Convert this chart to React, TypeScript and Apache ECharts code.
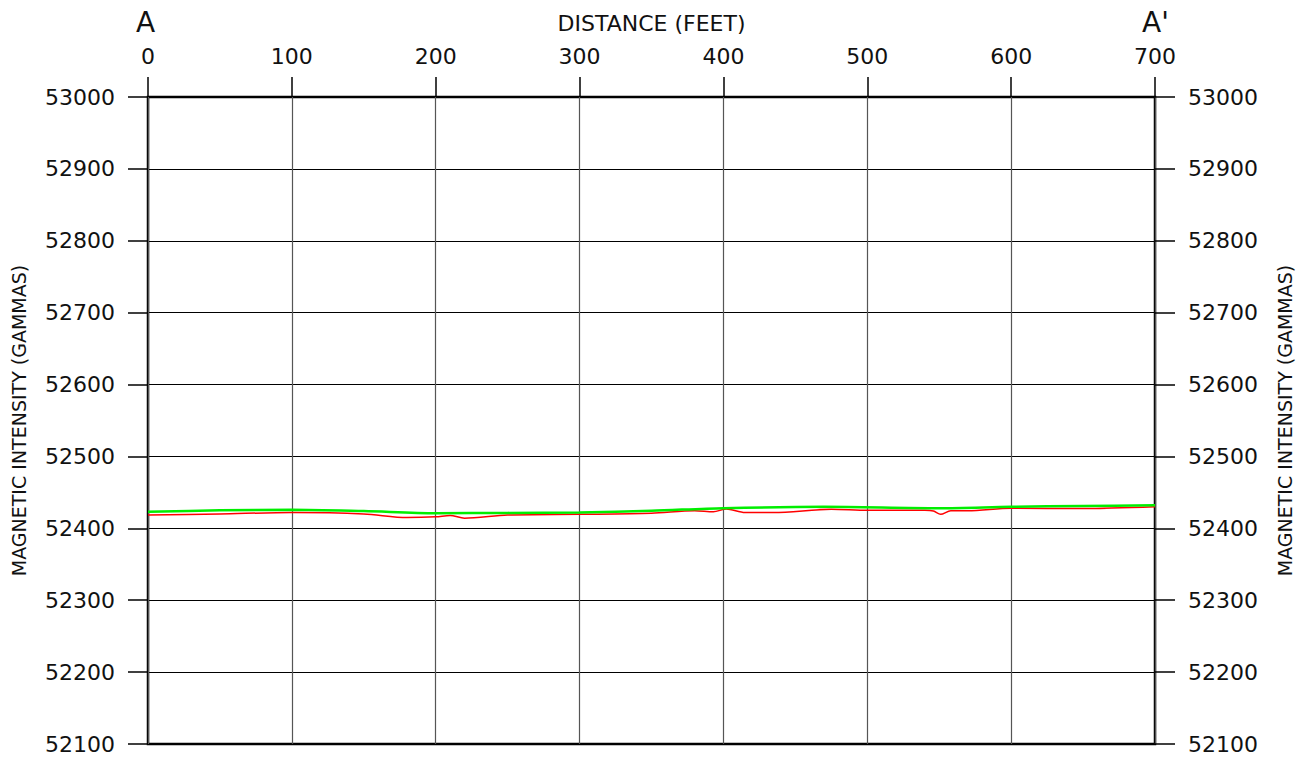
import React, { useEffect, useRef } from "react";
import * as echarts from "echarts";

const xTicks = [0, 100, 200, 300, 400, 500, 600, 700];
const yTicks = [52100, 52200, 52300, 52400, 52500, 52600, 52700, 52800, 52900, 53000];

const greenDist = [0, 50, 100, 150, 200, 250, 300, 350, 400, 470, 550, 600, 650, 700];
const greenVals = [52423, 52425, 52426, 52424, 52421, 52421.5, 52422, 52424.5, 52428, 52430, 52428, 52430, 52431, 52432];

const redDist = [0, 50, 100, 150, 180, 200, 210, 220, 250, 300, 350, 380, 393, 402, 415, 435, 475, 500, 540, 546, 551, 558, 570, 600, 650, 700];
const redVals = [52418.5, 52420, 52422, 52420, 52415, 52416, 52418, 52414, 52418.5, 52419.5, 52421, 52424.5, 52423, 52427, 52422, 52422, 52426.5, 52425, 52425, 52424, 52419.5, 52424.5, 52424.5, 52428, 52427.5, 52430];

const FONT = "DejaVu Sans";

export default function App() {
  const ref = useRef<HTMLDivElement>(null);
  useEffect(() => {
    const chart = echarts.init(ref.current!, null, { renderer: "svg" });
    const yAxisBase = (pos: "left" | "right") => ({
      type: "value",
      position: pos,
      min: yTicks[0],
      max: yTicks[yTicks.length - 1],
      interval: 100,
      name: "MAGNETIC INTENSITY (GAMMAS)",
      nameLocation: "middle",
      nameRotate: 90,
      nameGap: 120,
      nameTextStyle: { fontFamily: FONT, fontSize: 19, color: "#111" },
      axisLine: { show: false },
      axisTick: { show: true, length: 20, lineStyle: { color: "#000", width: 1.5 } },
      axisLabel: {
        margin: 33,
        fontFamily: FONT,
        fontSize: 22,
        color: "#111",
        formatter: (v: number) => String(v),
      },
      splitLine: { show: pos === "left", lineStyle: { color: "#000", width: 1 } },
    });
    chart.setOption({
      animation: false,
      backgroundColor: "#fff",
      grid: {
        left: 148,
        right: 152,
        top: 97,
        bottom: 13,
        show: true,
        borderColor: "#000",
        borderWidth: 2.5,
        backgroundColor: "transparent",
      },
      xAxis: {
        type: "value",
        position: "top",
        min: xTicks[0],
        max: xTicks[xTicks.length - 1],
        interval: 100,
        name: "DISTANCE (FEET)",
        nameLocation: "middle",
        nameGap: 63,
        nameTextStyle: { fontFamily: FONT, fontSize: 22, color: "#111" },
        axisLine: { show: false },
        axisTick: { show: true, length: 20, lineStyle: { color: "#000", width: 1.5 } },
        axisLabel: { margin: 30, fontFamily: FONT, fontSize: 22, color: "#111" },
        splitLine: { show: true, lineStyle: { color: "#555", width: 1.2 } },
      },
      yAxis: [yAxisBase("left"), yAxisBase("right")],
      graphic: [
        {
          type: "text",
          left: 136,
          top: 8,
          style: { text: "A", fontFamily: FONT, fontSize: 28, fill: "#111" },
        },
        {
          type: "text",
          left: 1142,
          top: 8,
          style: { text: "A'", fontFamily: FONT, fontSize: 28, fill: "#111" },
        },
      ],
      series: [
        {
          type: "line",
          name: "Red",
          data: redDist.map((d, i) => [d, redVals[i]]),
          showSymbol: false,
          smooth: 0.3,
          lineStyle: { color: "#ff0000", width: 1.5 },
          z: 3,
        },
        {
          type: "line",
          name: "Green",
          data: greenDist.map((d, i) => [d, greenVals[i]]),
          showSymbol: false,
          smooth: 0.3,
          lineStyle: { color: "#00ee00", width: 2.5 },
          z: 4,
        },
      ],
    });
    return () => chart.dispose();
  }, []);
  return (
    <div
      ref={ref}
      style={{ position: "fixed", left: 0, top: 0, width: 1307, height: 757 }}
    />
  );
}
